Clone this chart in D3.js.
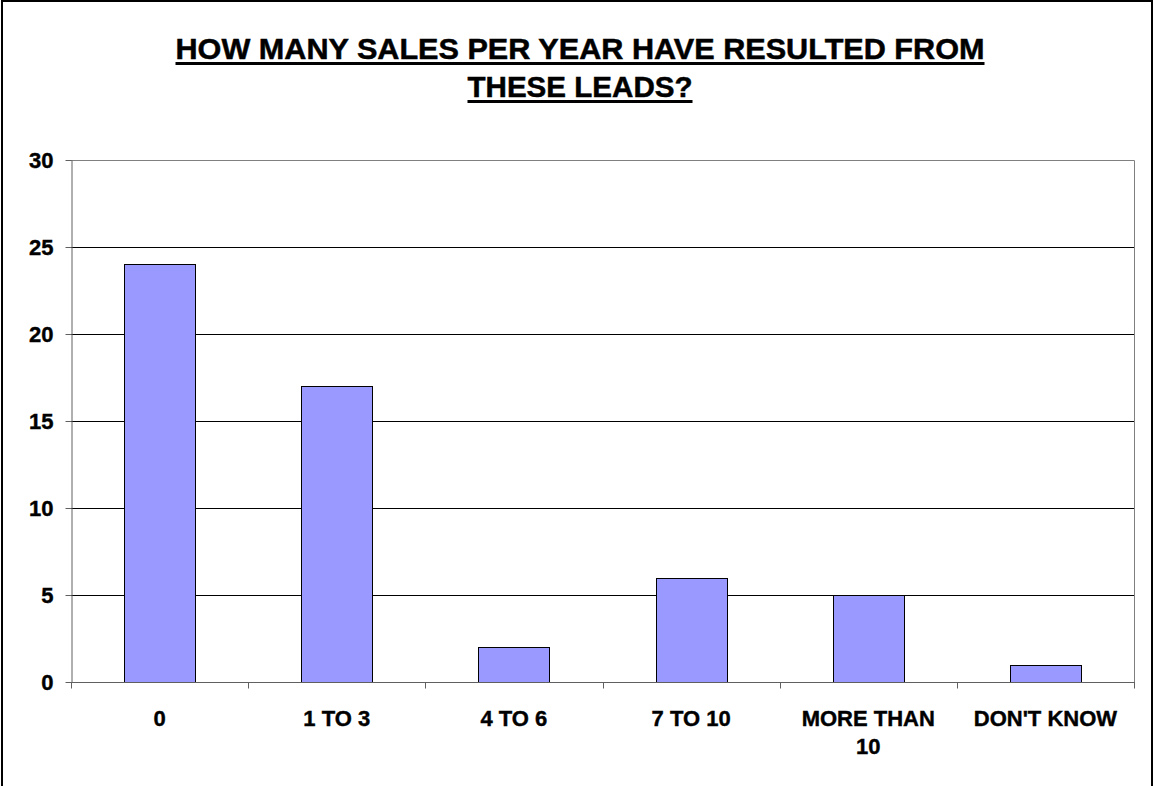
<!DOCTYPE html>
<html>
<head>
<meta charset="utf-8">
<script src="https://cdn.jsdelivr.net/npm/d3@7"></script>
<style>
    body { margin: 0; background: #fff; }
    text { font-family: "Liberation Sans", Arial, sans-serif; font-weight: bold; fill: #000; }
</style>
</head>
<body>
<div id="chart"></div>
<script>
"use strict";

// Data
let categories = ["0", "1 TO 3", "4 TO 6", "7 TO 10", "MORE THAN 10", "DON'T KNOW"];
let values = [24, 17, 2, 6, 5, 1];
let yTicks = [0, 5, 10, 15, 20, 25, 30];
let titleLines = ["HOW MANY SALES PER YEAR HAVE RESULTED FROM", "THESE LEADS?"];

function drawChart() {
    let width = 1155;
    let height = 786;
    let plot = {left: 71, right: 1134, top: 160, bottom: 682};

    let svg = d3.select("#chart").append("svg")
        .attr("width", width).attr("height", height);

    // Outer chart border
    svg.append("rect").attr("x", 2).attr("y", 1)
        .attr("width", 1150).attr("height", 820)
        .attr("fill", "#fff").attr("stroke", "#000").attr("stroke-width", 2);

    // Title, two lines, underlined
    let titleWidths = [809, 225];
    titleLines.forEach(function (line, i) {
        let t = svg.append("text")
            .attr("x", 580).attr("y", 59 + i * 38)
            .attr("text-anchor", "middle")
            .style("font-size", "30px")
            .style("stroke", "#000").style("stroke-width", 0.5)
            .attr("textLength", titleWidths[i])
            .attr("lengthAdjust", "spacingAndGlyphs")
            .text(line);
        let box = t.node().getBBox();
        svg.append("rect")
            .attr("x", box.x).attr("y", 62 + i * 38)
            .attr("width", box.width).attr("height", 3)
            .attr("fill", "#000");
    });

    // Scales
    let xScale = d3.scaleBand()
        .domain(categories)
        .range([plot.left, plot.right])
        .padding(0);

    let yScale = d3.scaleLinear()
        .domain([0, 30])
        .range([plot.bottom, plot.top]);

    // Gridlines
    svg.append("g").selectAll("line").data(yTicks.filter(function (d) {
            return d > 0 && d < 30;
        })).enter()
        .append("line")
        .attr("x1", plot.left).attr("x2", plot.right)
        .attr("y1", function (d) { return Math.round(yScale(d)) + 0.5; })
        .attr("y2", function (d) { return Math.round(yScale(d)) + 0.5; })
        .attr("stroke", "#000").attr("stroke-width", 1);

    // Plot area frame (top and right)
    svg.append("path")
        .attr("d", `M${plot.left},${plot.top + 0.5}H${plot.right + 0.5}V${plot.bottom}`)
        .attr("fill", "none").attr("stroke", "#808080").attr("stroke-width", 1);

    // Bars
    let barWidth = xScale.bandwidth() * 0.4;
    svg.append("g").selectAll("rect").data(values).enter()
        .append("rect")
        .attr("x", function (d, i) {
            return Math.round(xScale(categories[i]) + xScale.bandwidth() / 2 - barWidth / 2) + 0.5;
        })
        .attr("y", function (d) { return Math.round(yScale(d)) + 0.5; })
        .attr("width", Math.round(barWidth))
        .attr("height", function (d) { return Math.round(yScale(0)) - Math.round(yScale(d)); })
        .attr("fill", "#9999FF")
        .attr("stroke", "#000").attr("stroke-width", 1);

    // Y axis
    let yAxis = svg.append("g")
        .attr("transform", `translate(${plot.left + 0.5},0)`)
        .call(d3.axisLeft(yScale).tickValues(yTicks).tickSize(6).tickPadding(12).tickSizeOuter(0));
    yAxis.select(".domain").attr("stroke", "#606060");
    yAxis.selectAll(".tick line").attr("stroke", "#606060");
    yAxis.selectAll(".tick text")
        .attr("font-family", null).attr("font-size", null)
        .style("font-size", "22px")
        .style("stroke", "#000").style("stroke-width", 0.4)
        .attr("dy", "0.36em");

    // X axis: ticks on category boundaries
    let xAxis = svg.append("g")
        .attr("transform", `translate(0,${plot.bottom + 0.5})`);
    xAxis.append("line")
        .attr("x1", plot.left).attr("x2", plot.right + 1)
        .attr("stroke", "#606060");
    let bounds = categories.map(function (c) { return xScale(c); }).concat([plot.right]);
    xAxis.selectAll(".bound").data(bounds).enter()
        .append("line").attr("class", "bound")
        .attr("x1", function (d) { return Math.round(d) + 0.5; })
        .attr("x2", function (d) { return Math.round(d) + 0.5; })
        .attr("y1", 0).attr("y2", 6)
        .attr("stroke", "#606060");

    // Category labels, wrapped like the reference
    let wrapped = {"MORE THAN 10": ["MORE THAN", "10"]};
    categories.forEach(function (c) {
        let lines = wrapped[c] || [c];
        let t = svg.append("text")
            .attr("text-anchor", "middle")
            .style("font-size", "22px")
            .style("stroke", "#000").style("stroke-width", 0.4);
        lines.forEach(function (l, i) {
            t.append("tspan")
                .attr("x", xScale(c) + xScale.bandwidth() / 2)
                .attr("y", 726 + i * 28)
                .text(l);
        });
    });
}

window.onload = function () {
    drawChart();
};
</script>
</body>
</html>
